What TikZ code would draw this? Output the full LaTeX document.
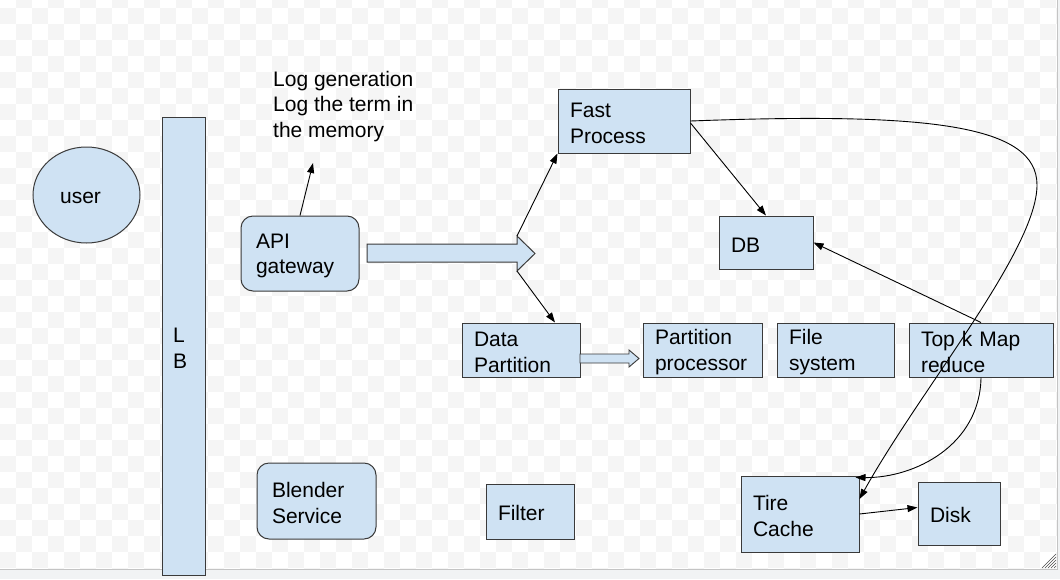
\documentclass[tikz,border=0pt]{standalone}
\usepackage{fontspec}
\setmainfont{Liberation Sans}
\usetikzlibrary{arrows.meta,shapes.geometric,calc}
\definecolor{boxfill}{HTML}{CFE2F3}
\definecolor{boxline}{HTML}{3A3A3A}
\definecolor{chk}{HTML}{F5F5F5}
\definecolor{outerbg}{HTML}{F1F3F4}
\definecolor{frameline}{HTML}{C4C4C4}
\begin{document}
\begin{tikzpicture}[x=1pt,y=-1pt,
  txt/.style={font=\fontsize{21}{25.5}\selectfont},
  box/.style={draw=boxline,fill=boxfill,line width=1pt,rectangle,inner xsep=12pt,inner ysep=0pt,align=left,txt,
    execute at begin node={\rule{0pt}{19pt}}},
  rbox/.style={box,rounded corners=12pt},
  conn/.style={line width=0.9pt,-{Triangle[length=10pt,width=7pt]}},
  fat/.style={draw=boxline,fill=boxfill,line width=1pt,line join=miter}
]
\useasboundingbox (0,0) rectangle (1060,579);
% canvas background
\fill[outerbg] (0,0) rectangle (1060,579);
\fill[white] (0,0) rectangle (1057,569);
\begin{scope}
\clip (0,0) rectangle (1057,569);
\foreach \r in {0,...,36}{
  \pgfmathtruncatemacro{\cs}{mod(\r+1,2)}
  \pgfmathtruncatemacro{\cn}{\cs+2}
  \foreach \c in {\cs,\cn,...,66}{
    \fill[chk] (16*\c,16*\r-8) rectangle ++(16,16);
  }
}
\end{scope}
\draw[frameline,line width=1pt] (1057,0) -- (1057,569) -- (0,569);
\foreach \k in {0,3,6,9,12}{
  \draw[black!70,line width=0.6pt] (1042+\k,568) -- (1056,554+\k);
}

% nodes
\node[ellipse,draw=boxline,fill=boxfill,line width=1pt,minimum width=107pt,minimum height=96pt,inner sep=0pt,txt] (user) at (86.5,195) {\raisebox{-3pt}[\height][\depth]{user}\hspace*{12pt}};
\node[box,text width=21pt,inner xsep=11pt,minimum height=458pt] (lb) at (183.5,346) {L\\B};
\node[rbox,inner xsep=15pt,text width=88pt,minimum height=75pt] (api) at (300,253.5) {API\\gateway};
\node[txt,align=left,anchor=north west,inner sep=0pt] (log) at (273,71) {Log generation\\Log the term in\\the memory};
\node[box,text width=108pt,minimum height=64pt] (fp) at (624,121) {Fast\\Process};
\node[box,text width=70pt,minimum height=53pt] (db) at (766,242.5) {DB};
\node[box,text width=94pt,minimum height=54pt] (dp) at (521,350) {Data\\Partition};
\node[box,text width=95pt,minimum height=54pt] (pp) at (702.5,350) {Partition\\processor};
\node[box,text width=93pt,minimum height=54pt] (fs) at (835.5,350) {File\\system};
\node[box,text width=120pt,minimum height=54pt] (tk) at (981,350) {Top k Map\\reduce};
\node[box,text width=94pt,minimum height=76pt] (tc) at (800,514) {Tire\\Cache};
\node[box,text width=58pt,minimum height=63pt] (disk) at (959,513.5) {Disk};
\node[box,text width=64pt,minimum height=55pt] (filter) at (530,511.5) {Filter};
\node[rbox,inner xsep=15pt,text width=89pt,minimum height=76pt] (bs) at (316.5,501) {Blender\\Service};

% block arrows
\draw[fat] (367,244) -- (517,244) -- (517,236) -- (535,253.5) -- (517,271) -- (517,262) -- (367,262) -- cycle;
\coordinate (bigtop) at (517,236);
\coordinate (bigbot) at (517,271);
\draw[fat,line width=0.9pt] (580,354) -- (629,354) -- (629,350) -- (639,358.5) -- (629,367) -- (629,363) -- (580,363) -- cycle;

% connectors
\coordinate (logpt) at (313,163);
\draw[conn] (api.north) -- (logpt);
\draw[conn] (bigtop) -- (fp.south west);
\draw[conn] (bigbot) -- ([xshift=34pt]dp.north);
\draw[conn] ([yshift=-2pt]fp.east) -- (db.north);
\draw[conn] (tk.north) -- (db.east);
\draw[conn] (tc.east) -- ([yshift=6pt]disk.west);
\draw[conn] (fp.east) .. controls (930,112) and (1037,125) .. (1037,185)
  .. controls (1037,250) and (920,390) .. ([yshift=15pt]tc.east);
\draw[conn] (tk.south) .. controls (980,445) and (915,478) .. ([xshift=-4pt,yshift=-2pt]tc.north east);
\end{tikzpicture}
\end{document}
